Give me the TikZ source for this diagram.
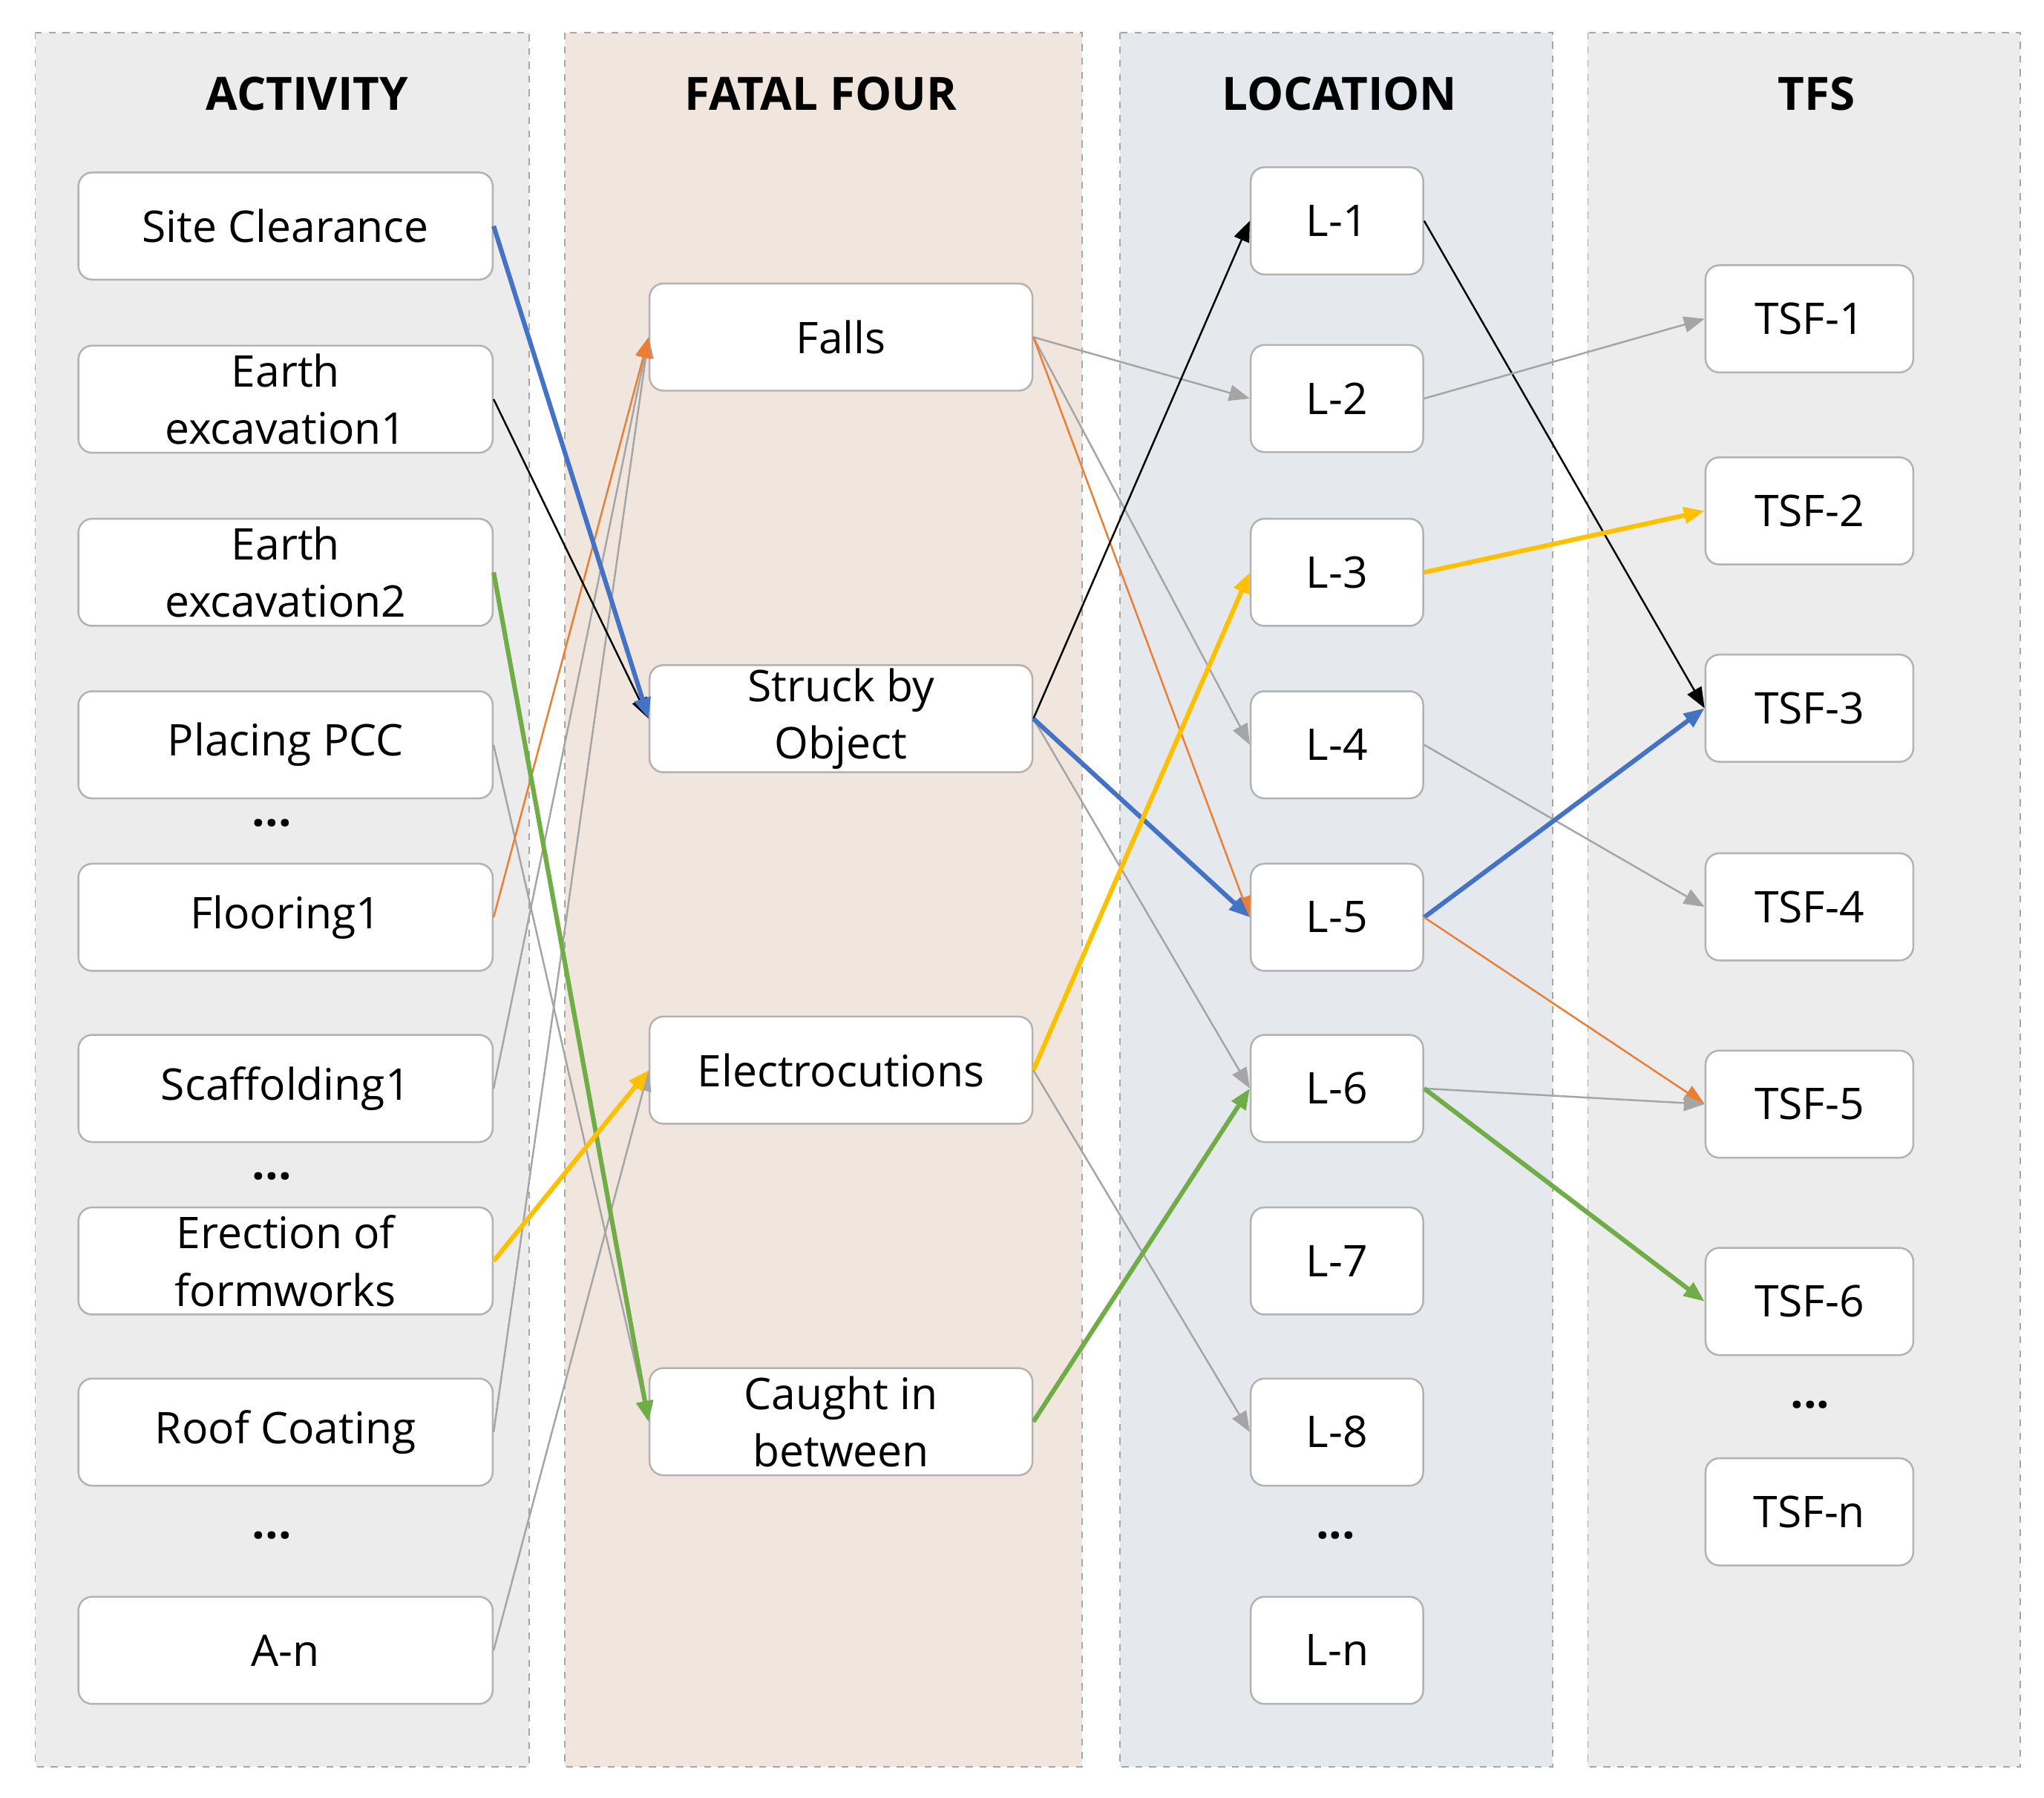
\documentclass[tikz,border=0pt]{standalone}
\usepackage{fontspec}
\setmainfont{Open Sans}
\usetikzlibrary{arrows.meta}
\definecolor{cblue}{HTML}{4472C4}
\definecolor{corange}{HTML}{ED7D31}
\definecolor{cgray}{HTML}{A5A5A5}
\definecolor{cyellow}{HTML}{FFC000}
\definecolor{cgreen}{HTML}{70AD47}
\begin{document}
\begin{tikzpicture}[x=0.02cm,y=-0.02cm,
 panel/.style={draw=gray!70,dashed,line width=0.6pt},
 box/.style={draw=gray!60,fill=white,rounded corners=6pt,line width=0.8pt,font=\fontsize{19}{25}\selectfont,align=center,inner sep=0pt},
 head/.style={font=\fontsize{20}{20}\selectfont\bfseries},
 dots/.style={font=\fontsize{20}{20}\selectfont\bfseries},
 ar/.style={-{Triangle[length=9pt,width=7pt]},line width=0.8pt},
 thin/.style={ar,cgray},
 thick/.style={ar,line width=2pt}]
\useasboundingbox (0,0) rectangle (1564,1376);
\fill[white] (0,0) rectangle (1564,1376);
\filldraw[panel,fill=gray!15] (27,25) rectangle (405,1352);
\filldraw[panel,fill={rgb,255:red,240;green,230;blue,222}] (432,25) rectangle (828,1352);
\filldraw[panel,fill={rgb,255:red,229;green,233;blue,238}] (857,25) rectangle (1188,1352);
\filldraw[panel,fill=gray!15] (1215,25) rectangle (1546,1352);
\node[head] (h1) at (235,72) {ACTIVITY};
\node[head] (h2) at (628,72) {FATAL FOUR};
\node[head] (h3) at (1025,72) {LOCATION};
\node[head] (h4) at (1390,72) {TFS};
% activity
\tikzset{abox/.style={box,minimum width=317*0.02cm,minimum height=82*0.02cm}}
\node[abox] (a1) at (218.5,173) {Site Clearance};
\node[abox] (a2) at (218.5,305.5) {Earth\\excavation1};
\node[abox] (a3) at (218.5,438) {Earth\\excavation2};
\node[abox] (a4) at (218.5,570) {Placing PCC};
\node[dots] (d1) at (208,630) {...};
\node[abox] (a5) at (218.5,702) {Flooring1};
\node[abox] (a6) at (218.5,833) {Scaffolding1};
\node[dots] (d2) at (208,900) {...};
\node[abox] (a7) at (218.5,965) {Erection of\\formworks};
\node[abox] (a8) at (218.5,1096) {Roof Coating};
\node[dots] (d3) at (208,1175) {...};
\node[abox] (a9) at (218.5,1263) {A-n};
% fatal
\tikzset{fbox/.style={box,minimum width=293*0.02cm,minimum height=82*0.02cm}}
\node[fbox] (f1) at (643.5,258) {Falls};
\node[fbox] (f2) at (643.5,550) {Struck by\\Object};
\node[fbox] (f3) at (643.5,819) {Electrocutions};
\node[fbox] (f4) at (643.5,1088) {Caught in\\between};
% location
\tikzset{lbox/.style={box,minimum width=132*0.02cm,minimum height=82*0.02cm}}
\node[lbox] (l1) at (1023,169) {L-1};
\node[lbox] (l2) at (1023,305) {L-2};
\node[lbox] (l3) at (1023,438) {L-3};
\node[lbox] (l4) at (1023,570) {L-4};
\node[lbox] (l5) at (1023,702) {L-5};
\node[lbox] (l6) at (1023,833) {L-6};
\node[lbox] (l7) at (1023,965) {L-7};
\node[lbox] (l8) at (1023,1096) {L-8};
\node[dots] (d4) at (1022,1175) {...};
\node[lbox] (ln) at (1023,1263) {L-n};
% tfs
\tikzset{tbox/.style={box,minimum width=159*0.02cm,minimum height=82*0.02cm}}
\node[tbox] (t1) at (1384.5,244) {TSF-1};
\node[tbox] (t2) at (1384.5,391) {TSF-2};
\node[tbox] (t3) at (1384.5,542) {TSF-3};
\node[tbox] (t4) at (1384.5,694) {TSF-4};
\node[tbox] (t5) at (1384.5,845) {TSF-5};
\node[tbox] (t6) at (1384.5,996) {TSF-6};
\node[dots] (d5) at (1385,1075) {...};
\node[tbox] (tn) at (1384.5,1157) {TSF-n};
% activity -> fatal
\draw[thin] (a4.east) -- (f4.west);
\draw[thin] (a6.east) -- (f1.west);
\draw[thin] (a8.east) -- (f1.west);
\draw[thin] (a9.east) -- (f3.west);
\draw[ar,corange] (a5.east) -- (f1.west);
\draw[ar,black] (a2.east) -- (f2.west);
\draw[thick,cblue] (a1.east) -- (f2.west);
\draw[thick,cgreen] (a3.east) -- (f4.west);
\draw[thick,cyellow] (a7.east) -- (f3.west);
% fatal -> location
\draw[thin] (f1.east) -- (l2.west);
\draw[thin] (f1.east) -- (l4.west);
\draw[ar,corange] (f1.east) -- (l5.west);
\draw[thin] (f2.east) -- (l6.west);
\draw[ar,black] (f2.east) -- (l1.west);
\draw[thick,cblue] (f2.east) -- (l5.west);
\draw[thin] (f3.east) -- (l8.west);
\draw[thick,cyellow] (f3.east) -- (l3.west);
\draw[thick,cgreen] (f4.east) -- (l6.west);
% location -> tfs
\draw[ar,black] (l1.east) -- (t3.west);
\draw[thin] (l2.east) -- (t1.west);
\draw[thick,cyellow] (l3.east) -- (t2.west);
\draw[thin] (l4.east) -- (t4.west);
\draw[thick,cblue] (l5.east) -- (t3.west);
\draw[ar,corange] (l5.east) -- (t5.west);
\draw[thin] (l6.east) -- (t5.west);
\draw[thick,cgreen] (l6.east) -- (t6.west);
\end{tikzpicture}
\end{document}
